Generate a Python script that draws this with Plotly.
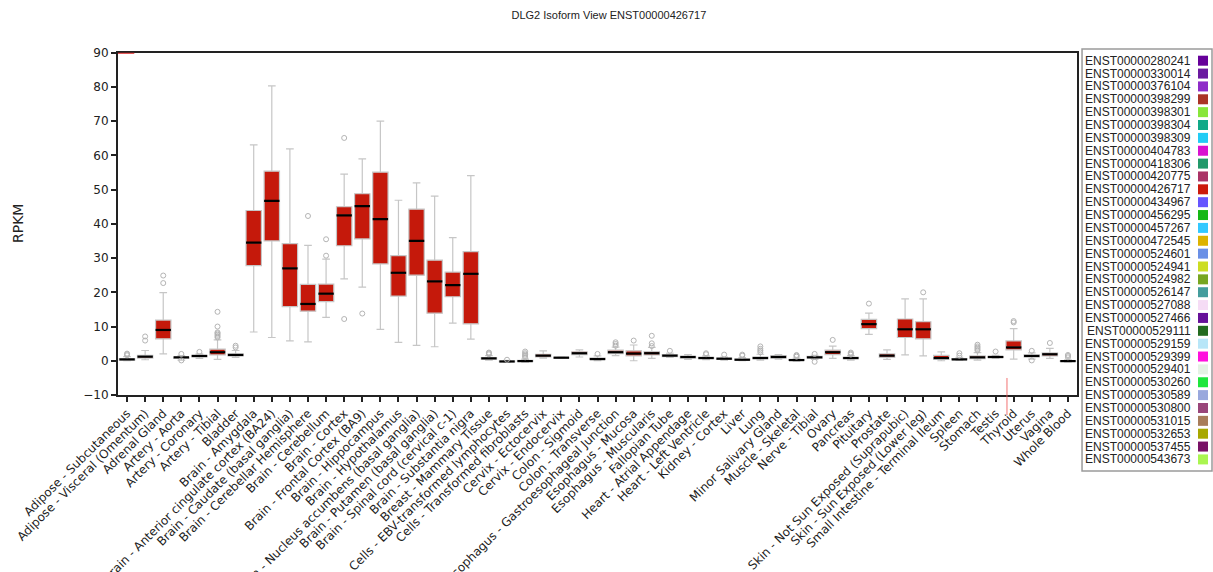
import plotly.graph_objects as go

# ---------------- data ----------------
tissues = [
    "Adipose - Subcutaneous", "Adipose - Visceral (Omentum)", "Adrenal Gland",
    "Artery - Aorta", "Artery - Coronary", "Artery - Tibial", "Bladder",
    "Brain - Amygdala", "Brain - Anterior cingulate cortex (BA24)",
    "Brain - Caudate (basal ganglia)", "Brain - Cerebellar Hemisphere",
    "Brain - Cerebellum", "Brain - Cortex", "Brain - Frontal Cortex (BA9)",
    "Brain - Hippocampus", "Brain - Hypothalamus",
    "Brain - Nucleus accumbens (basal ganglia)", "Brain - Putamen (basal ganglia)",
    "Brain - Spinal cord (cervical c-1)", "Brain - Substantia nigra",
    "Breast - Mammary Tissue", "Cells - EBV-transformed lymphocytes",
    "Cells - Transformed fibroblasts", "Cervix - Ectocervix", "Cervix - Endocervix",
    "Colon - Sigmoid", "Colon - Transverse",
    "Esophagus - Gastroesophageal Junction", "Esophagus - Mucosa",
    "Esophagus - Muscularis", "Fallopian Tube", "Heart - Atrial Appendage",
    "Heart - Left Ventricle", "Kidney - Cortex", "Liver", "Lung",
    "Minor Salivary Gland", "Muscle - Skeletal", "Nerve - Tibial", "Ovary",
    "Pancreas", "Pituitary", "Prostate", "Skin - Not Sun Exposed (Suprapubic)",
    "Skin - Sun Exposed (Lower leg)", "Small Intestine - Terminal Ileum",
    "Spleen", "Stomach", "Testis", "Thyroid", "Uterus", "Vagina", "Whole Blood",
]

lower_fence = [0.0, 0.3, 2.0, 0.2, 0.7, 0.4, 1.0,
               8.4, 6.8, 5.8, 5.5, 12.7, 23.9, 21.5, 9.2, 5.4, 4.5, 4.1, 11.0, 6.3,
               0.2, -0.5, -0.4, 0.8, 0.7, 1.1, 0.0, 1.5, 0.0, 0.7, 1.0, 0.4, 0.3,
               0.2, 0.0, 0.2, 0.5, -0.1, 0.4, 0.7, 0.2, 7.7, 0.4, 1.7, 1.4, 0.0,
               0.1, 0.2, 0.7, 0.5, 0.5, 0.7, -0.3]
q1 = [0.2, 0.8, 6.4, 0.7, 1.1, 1.7, 1.4,
      27.8, 35.0, 15.8, 14.5, 17.3, 33.6, 35.6, 28.3, 18.9, 25.0, 13.9, 18.7, 10.8,
      0.5, -0.35, -0.2, 1.1, 0.8, 1.8, 0.3, 2.1, 1.4, 1.7, 1.2, 0.8, 0.6,
      0.4, 0.2, 0.6, 0.8, 0.1, 0.8, 1.8, 0.6, 9.4, 1.0, 6.8, 6.4, 0.4,
      0.3, 0.6, 0.9, 3.2, 1.1, 1.4, -0.2]
median = [0.4, 1.2, 9.0, 1.0, 1.4, 2.5, 1.7,
          34.5, 46.7, 27.0, 16.6, 19.6, 42.5, 45.2, 41.4, 25.7, 35.0, 23.2, 22.1, 25.4,
          0.7, -0.2, -0.1, 1.5, 0.9, 2.2, 0.5, 2.5, 2.1, 2.2, 1.5, 1.1, 0.8,
          0.6, 0.3, 0.8, 1.1, 0.2, 1.0, 2.5, 0.8, 10.7, 1.5, 9.2, 9.2, 0.8,
          0.4, 1.0, 1.1, 3.9, 1.4, 1.9, -0.1]
q3 = [0.6, 1.6, 11.9, 1.1, 1.6, 3.4, 2.0,
      43.9, 55.4, 34.2, 22.3, 22.4, 45.0, 48.8, 55.1, 30.7, 44.3, 29.4, 25.9, 31.9,
      0.9, -0.1, 0.1, 1.9, 1.0, 2.6, 0.8, 3.1, 2.9, 2.7, 1.8, 1.3, 1.0,
      0.8, 0.5, 1.1, 1.5, 0.4, 1.3, 3.1, 1.0, 12.1, 2.0, 12.2, 11.4, 1.6,
      0.6, 1.4, 1.3, 5.8, 1.7, 2.3, 0.0]
upper_fence = [1.2, 3.0, 19.9, 1.5, 2.0, 6.1, 3.0,
               63.1, 80.3, 61.9, 33.7, 29.7, 54.5, 59.0, 70.0, 46.9, 52.0, 48.1, 36.0, 54.1,
               1.5, 0.1, 0.5, 2.9, 1.1, 3.2, 1.4, 4.0, 4.6, 3.9, 2.2, 1.8, 1.4,
               1.1, 0.9, 1.9, 1.8, 0.8, 1.6, 4.3, 1.5, 13.9, 3.2, 18.1, 18.1, 2.6,
               1.0, 2.4, 1.6, 9.4, 2.3, 3.6, 0.3]

outlier_tissue = [0, 0, 0, 1, 1, 2, 2, 3, 3, 4,
                  5, 5, 5, 5, 5, 5, 5, 6, 6,
                  10, 11, 11, 12, 12, 13,
                  20, 20, 20, 21, 22, 22, 22, 22, 22,
                  26, 27, 27, 27, 28, 29, 29, 29, 30, 32, 32, 33, 34, 34,
                  35, 35, 35, 35, 37, 37, 37, 38, 38, 39, 40, 40, 40, 41,
                  44, 46, 46, 47, 47, 47, 47, 47, 48, 49, 49, 50, 50, 51,
                  52, 52, 52]
outlier_value = [1.6, 1.9, 2.1, 5.9, 7.1, 22.7, 24.9, 2.0, 0.1, 2.6,
                 6.8, 7.2, 7.6, 8.0, 8.3, 10.0, 14.3, 3.9, 4.4,
                 42.3, 30.7, 35.5, 12.2, 65.1, 13.8,
                 1.9, 2.2, 2.4, 0.3, 1.0, 1.4, 1.8, 2.2, 2.7,
                 2.0, 4.4, 4.9, 5.4, 5.9, 4.3, 5.1, 7.3, 2.9, 1.9, 2.2, 1.8, 1.5, 1.8,
                 2.5, 3.0, 3.5, 4.2, 1.2, 1.5, 1.7, 2.0, -0.3, 6.1, 1.8, 2.1, 2.4, 16.7,
                 20.0, 1.5, 2.2, 3.0, 3.4, 3.8, 4.2, 4.7, 2.7, 11.2, 11.6, 2.9, 0.1, 5.2,
                 1.0, 1.4, 1.7]

isoforms = [
    "ENST00000280241", "ENST00000330014", "ENST00000376104", "ENST00000398299",
    "ENST00000398301", "ENST00000398304", "ENST00000398309", "ENST00000404783",
    "ENST00000418306", "ENST00000420775", "ENST00000426717", "ENST00000434967",
    "ENST00000456295", "ENST00000457267", "ENST00000472545", "ENST00000524601",
    "ENST00000524941", "ENST00000524982", "ENST00000526147", "ENST00000527088",
    "ENST00000527466", "ENST00000529111", "ENST00000529159", "ENST00000529399",
    "ENST00000529401", "ENST00000530260", "ENST00000530589", "ENST00000530800",
    "ENST00000531015", "ENST00000532653", "ENST00000537455", "ENST00000543673",
]
isoform_colors = [
    "#66009a", "#6a1aa0", "#8e2bc8", "#aa3326", "#88e63a", "#10a988",
    "#22ccf5", "#d812d0", "#22996a", "#aa3366", "#cc1a0c", "#6655ff",
    "#14b814", "#33c8ff", "#ddb300", "#6a90e6", "#ccdd22", "#77a620",
    "#449d9d", "#f5dcf5", "#661199", "#236b1f", "#b8e6f8", "#ff11dd",
    "#e4f2e4", "#1ee63c", "#99a8dd", "#99467a", "#a87d5a", "#a8a800",
    "#781166", "#aaf550",
]

BOX_RED = "#c5190b"
BOX_WIDTH = 0.85
FONT_TICK = "DejaVu Sans"
FONT_SANS = "Liberation Sans"

idx = list(range(len(tissues)))

fig = go.Figure()

fig.add_trace(go.Box(
    x=idx, q1=q1, median=median, q3=q3,
    lowerfence=lower_fence, upperfence=upper_fence,
    fillcolor=BOX_RED, line=dict(color="#c6c6c6", width=1.2),
    width=BOX_WIDTH, whiskerwidth=0.5, boxpoints=False,
    xaxis="x", yaxis="y", showlegend=False,
))

mx, my = [], []
for i, m in zip(idx, median):
    mx += [i - BOX_WIDTH / 2, i + BOX_WIDTH / 2, None]
    my += [m, m, None]
fig.add_trace(go.Scatter(
    x=mx, y=my, mode="lines", line=dict(color="black", width=2.2),
    hoverinfo="skip", showlegend=False, xaxis="x", yaxis="y",
))

fig.add_trace(go.Scatter(
    x=outlier_tissue, y=outlier_value, mode="markers",
    marker=dict(symbol="circle-open", size=5, color="#b4b4b4", line=dict(width=1)),
    showlegend=False, xaxis="x", yaxis="y",
))

# legend panel (colour squares; text as annotations)
leg_pos = list(range(len(isoforms)))
fig.add_trace(go.Scatter(
    x=[121] * len(isoforms), y=leg_pos, mode="markers",
    marker=dict(symbol="square", size=10, color=isoform_colors, line=dict(width=0)),
    showlegend=False, xaxis="x2", yaxis="y2", hoverinfo="skip",
))

annotations = [dict(text="RPKM", xref="paper", yref="paper",
                    x=(18 - 118) / 1094, y=(471 - 224) / 422,
                    xanchor="center", yanchor="middle", textangle=-90,
                    showarrow=False,
                    font=dict(family=FONT_TICK, size=14, color="#222"))]
for pos, name in zip(leg_pos, isoforms):
    annotations.append(dict(
        text=name, xref="x2", yref="y2", x=110, y=pos,
        xanchor="right", yanchor="middle", showarrow=False,
        borderpad=0, font=dict(family=FONT_SANS, size=12, color="#222"),
    ))

fig.update_layout(
    width=1213, height=572, autosize=False,
    margin=dict(l=118, r=1, t=49, b=101, pad=0, autoexpand=False),
    paper_bgcolor="white", plot_bgcolor="white",
    title=dict(text="DLG2 Isoform View ENST00000426717",
               x=0.502, xref="container", xanchor="center",
               y=1 - 15 / 572, yref="container", yanchor="middle",
               font=dict(family=FONT_SANS, size=11, color="#222")),
    xaxis=dict(domain=[0, 0.8766], range=[-0.5, 52.5], automargin=False,
               tickmode="array", tickvals=idx, ticktext=tissues, tickangle=-45,
               tickfont=dict(family=FONT_TICK, size=12, color="#222"),
               ticks="outside", ticklen=5, tickcolor="#222", tickwidth=1.5,
               showline=True, linecolor="#222", linewidth=1.5, mirror=True,
               showgrid=False, zeroline=False),
    yaxis=dict(domain=[0.1801, 0.9912], range=[-10, 90], dtick=10, tick0=0,
               automargin=False,
               tickfont=dict(family=FONT_TICK, size=12, color="#222"),
               ticks="outside", ticklen=5, tickcolor="#222", tickwidth=1.5,
               showline=True, linecolor="#222", linewidth=2, mirror=True,
               showgrid=False, zeroline=False),
    xaxis2=dict(domain=[0.8812, 1.0], range=[0, 130], visible=False, anchor="y2"),
    yaxis2=dict(domain=[0, 1], range=[31.9, -0.91], visible=False, anchor="x2"),
    annotations=annotations,
    shapes=[
        dict(type="rect", xref="x2 domain", yref="y2 domain", x0=0, x1=1, y0=0, y1=1,
             line=dict(color="#9a9a9a", width=1.5), fillcolor="rgba(0,0,0,0)"),
        dict(type="line", xref="x", yref="y", x0=-0.5, x1=0.4, y0=90, y1=90,
             line=dict(color="#dd2222", width=2)),
        dict(type="line", xref="x", yref="paper", x0=48.63, x1=48.63,
             y0=0.1327, y1=0.2204, line=dict(color="rgba(240,90,90,0.85)", width=1)),
    ],
)

fig.write_html("out.html")
